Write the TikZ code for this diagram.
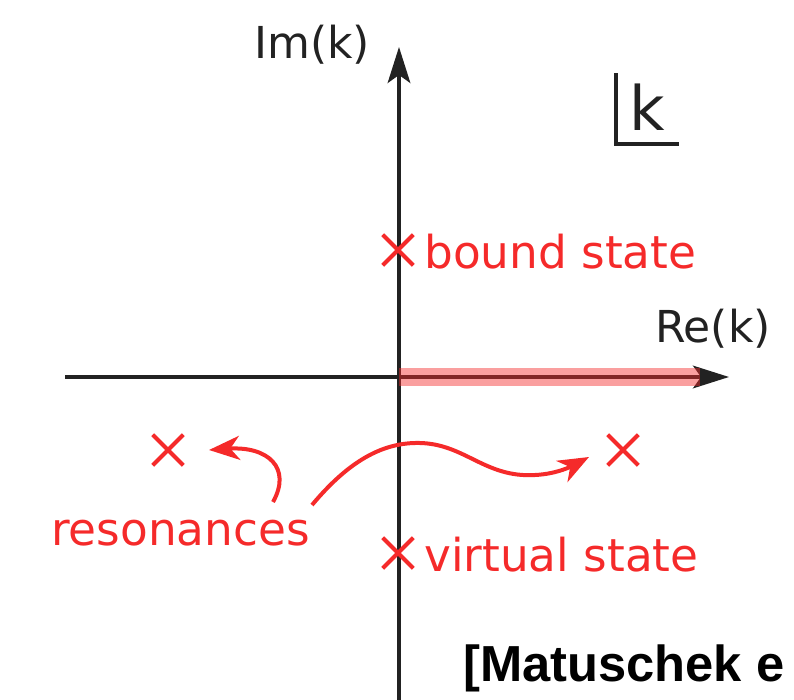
\documentclass[tikz,border=0pt]{standalone}
\usepackage{fontspec}
\setmainfont{DejaVu Sans}
\newfontfamily\citefont{Liberation Sans}
\usetikzlibrary{arrows.meta,shapes.misc}
\definecolor{kplaneink}{HTML}{222222}
\definecolor{kplanered}{HTML}{F52A2A}
\tikzset{
  kaxis/.style={draw=kplaneink,line width=2.3pt,-{Stealth[length=27pt,width=17pt,inset=6pt]}},
  kcut/.style={draw=kplanered,opacity=0.45,line width=14pt},
  kpole/.style={cross out,draw=kplanered,line width=3pt,minimum size=20pt,inner sep=0pt},
  kredlabel/.style={text=kplanered,font=\fontsize{34}{40}\selectfont,inner sep=0pt},
  kblacklabel/.style={text=kplaneink,font=\fontsize{33}{40}\selectfont,inner sep=0pt},
  kpointer/.style={draw=kplanered,line width=3pt,-{Stealth[length=23pt,width=18pt,inset=7pt]}},
}

\begin{document}
\begin{tikzpicture}[x=0.75pt,y=-0.75pt]
        \useasboundingbox (0,0) rectangle (794,700);
        % axes
        \coordinate (origin) at (399,377);
        \coordinate (xlow) at (65,377);
        \coordinate (xhigh) at (729,377);
        \coordinate (ylow) at (399,700);
        \coordinate (yhigh) at (399,47);
        \coordinate (cutend) at (700,377);
        \draw[kaxis] (xlow) -- (xhigh);
        \draw[kaxis] (ylow) -- (yhigh);
        \draw[kcut] (origin) -- (cutend);
        \node[kblacklabel,anchor=base west] (imlabel) at (254,58) {Im(k)};
        \node[kblacklabel,anchor=base west] (relabel) at (655,342) {Re(k)};
        % k plane marker
        \node[text=kplaneink,font=\fontsize{46}{50}\selectfont,inner sep=0pt,anchor=base west] (kmark) at (629,130) {k};
        \coordinate (ktop) at (616,73);
        \coordinate (kcorner) at (616,144);
        \coordinate (kright) at (679,144);
        \draw[draw=kplaneink,line width=2.3pt] (ktop) -- (kcorner) -- (kright);
        % poles
        \node[kpole] (bound) at (398,250) {};
        \node[kpole] (virtual) at (398,553) {};
        \node[kpole] (resL) at (168,450) {};
        \node[kpole] (resR) at (623,450) {};
        \node[kredlabel,anchor=base west] (boundtext) at (424,268) {bound state};
        \node[kredlabel,anchor=base west] (virtualtext) at (424,571) {virtual state};
        \node[kredlabel,anchor=base west] (restext) at (51,545) {resonances};
        % pointers
        \coordinate (lstart) at (273,502);
        \coordinate (ltip) at (209,450);
        \coordinate (rstart) at (312,505);
        \coordinate (rpeak) at (420,443);
        \coordinate (rtip) at (589,457);
        \draw[kpointer] (lstart) .. controls (292,468) and (268,446) .. (ltip);
        \draw[kpointer] (rstart) .. controls (348,462) and (382,442) .. (rpeak)
          .. controls (465,444) and (485,478) .. (535,475)
          .. controls (558,474) and (574,465) .. (rtip);
        % citation
        \node[text=black,font=\citefont\bfseries\fontsize{38}{44}\selectfont,inner sep=0pt,anchor=base west] (citation) at (463,681) {[Matuschek e};
      \end{tikzpicture}
\end{document}
